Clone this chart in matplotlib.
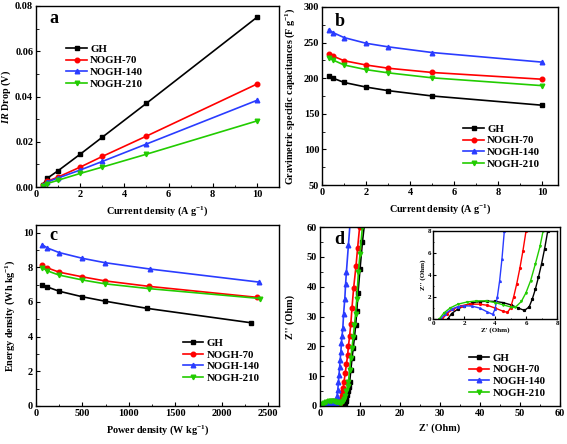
import matplotlib
matplotlib.use("Agg")
import matplotlib.pyplot as plt
from matplotlib.ticker import MultipleLocator

plt.rcParams['font.family'] = ['Liberation Serif', 'DejaVu Serif']
plt.rcParams['font.weight'] = 'bold'
plt.rcParams['axes.labelweight'] = 'bold'
plt.rcParams['mathtext.fontset'] = 'custom'
plt.rcParams['mathtext.rm'] = 'Liberation Serif:bold'
plt.rcParams['mathtext.it'] = 'Liberation Serif:bold:italic'
plt.rcParams['mathtext.bf'] = 'Liberation Serif:bold'

names = ['GH', 'NOGH-70', 'NOGH-140', 'NOGH-210']
colors = ['black', 'red', '#2a3cff', '#22cc00']
markers = ['s', 'o', '^', 'v']

# Panel a: IR drop
current = [0.3, 0.5, 1, 2, 3, 5, 10]
ir_gh = [0.0010, 0.0038, 0.0072, 0.0145, 0.0220, 0.0370, 0.0750]
ir_70 = [0.0008, 0.0025, 0.0044, 0.0088, 0.0135, 0.0225, 0.0455]
ir_140 = [0.0007, 0.0022, 0.0040, 0.0075, 0.0113, 0.0190, 0.0383]
ir_210 = [0.0005, 0.0015, 0.0030, 0.0060, 0.0088, 0.0145, 0.0292]

# Panel b: gravimetric capacitance
cap_gh = [203, 200, 194, 187.5, 182.5, 175, 162]
cap_70 = [234, 231, 224.5, 218.5, 214, 208, 198.5]
cap_140 = [268, 264, 257, 249, 244, 236, 222.5]
cap_210 = [229, 225.5, 218.5, 212, 207.5, 200.5, 189.5]

# Panel c: Ragone
pw_gh = [70, 120, 250, 500, 740, 1200, 2320]
en_gh = [7.0, 6.87, 6.62, 6.3, 6.05, 5.63, 4.8]
pw_70 = [70, 120, 250, 500, 740, 1220, 2380]
en_70 = [8.12, 7.97, 7.72, 7.45, 7.22, 6.9, 6.27]
pw_140 = [70, 120, 250, 500, 740, 1230, 2400]
en_140 = [9.3, 9.12, 8.85, 8.52, 8.27, 7.9, 7.15]
pw_210 = [70, 120, 250, 500, 740, 1220, 2420]
en_210 = [7.98, 7.8, 7.55, 7.27, 7.05, 6.77, 6.2]

# Panel d: Nyquist
zr_gh = [0.95, 1.2, 1.6, 2.0, 2.5, 3.0, 3.5, 4.0, 4.5, 5.0, 5.5, 5.9, 6.2, 6.4, 6.6, 6.8, 7.0, 7.2, 7.4,
         7.7, 8.0, 8.3, 8.6, 8.9, 9.2, 9.5, 10.0, 10.6, 11.1]
zi_gh = [0.0, 0.5, 0.9, 1.2, 1.45, 1.58, 1.62, 1.6, 1.5, 1.3, 1.0, 0.78, 1.1, 1.8, 2.7, 3.8, 5.0, 6.4, 8.0,
         12, 16, 19.5, 23, 27, 32, 38, 46, 55, 61]
zr_70 = [0.6, 0.9, 1.3, 1.8, 2.4, 3.0, 3.5, 4.0, 4.5, 4.8, 5.0, 5.2, 5.4, 5.6, 5.8, 6.0,
         6.3, 6.6, 6.9, 7.1, 7.4, 7.7, 8.0, 8.4, 9.0, 9.4, 9.9]
zi_70 = [0.0, 0.5, 0.9, 1.2, 1.35, 1.35, 1.25, 1.0, 0.72, 0.6, 1.0, 2.0, 3.2, 4.6, 6.2, 8.0,
         11, 14, 17, 20, 23.5, 27.5, 33, 39.5, 47, 53, 60]
zr_140 = [0.5, 0.8, 1.2, 1.6, 2.0, 2.5, 3.0, 3.5, 3.85, 4.0, 4.15, 4.3, 4.45, 4.6,
          4.75, 4.9, 5.05, 5.2, 5.35, 5.5, 5.7, 5.9, 6.2, 6.4, 6.6, 7.1, 7.5]
zi_140 = [0.0, 0.5, 0.9, 1.12, 1.2, 1.18, 1.0, 0.65, 0.42, 0.9, 2.0, 3.5, 5.5, 8.0,
          10.5, 13, 15.5, 18, 21, 23.5, 26, 31, 36, 41, 45, 54, 61]
zr_210 = [0.4, 0.7, 1.1, 1.6, 2.2, 2.8, 3.4, 4.0, 4.5, 5.0, 5.3, 5.7, 6.0, 6.3, 6.6, 6.9, 7.1,
          7.4, 7.7, 8.0, 8.3, 8.6, 8.9, 9.2, 9.6, 10.0, 10.6]
zi_210 = [0.0, 0.55, 1.0, 1.35, 1.55, 1.65, 1.65, 1.5, 1.3, 1.1, 1.05, 1.6, 2.4, 3.5, 5.0, 6.6, 8.0,
          12, 16, 19.5, 23, 27, 31, 36, 45, 51, 60]

fig = plt.figure(figsize=(5.67, 4.44), dpi=100)
ax_a = fig.add_axes([0.0635, 0.5788, 0.4286, 0.4077])
ax_b = fig.add_axes([0.568, 0.5833, 0.416, 0.401])
ax_c = fig.add_axes([0.0635, 0.0856, 0.4286, 0.4076])
ax_d = fig.add_axes([0.5644, 0.0856, 0.4233, 0.403])
ax_i = fig.add_axes([0.7637, 0.2815, 0.2187, 0.198])

LW = 1.2
MS = 3.3
FS = 7.3
TFS = 7.5
LEG = dict(frameon=False, fontsize=7.8, handlelength=1.9, labelspacing=0.2,
           borderpad=0.0, borderaxespad=0.0, handletextpad=0.3)


def style(ax, fs=TFS):
    ax.tick_params(which='both', direction='in', top=False, right=False, labelsize=fs, pad=2)
    ax.tick_params(which='major', length=3, width=0.8)
    ax.tick_params(which='minor', length=1.8, width=0.6)
    for s in ax.spines.values():
        s.set_linewidth(1.0)
    for lab in ax.get_xticklabels() + ax.get_yticklabels():
        lab.set_fontweight('bold')


# a
for y, n, c, m in zip([ir_gh, ir_70, ir_140, ir_210], names, colors, markers):
    ax_a.plot(current, y, color=c, marker=m, ms=MS, lw=LW, label=n)
ax_a.set_xlim(0, 11)
ax_a.set_ylim(0, 0.08)
ax_a.xaxis.set_major_locator(MultipleLocator(2))
ax_a.xaxis.set_minor_locator(MultipleLocator(1))
ax_a.yaxis.set_major_locator(MultipleLocator(0.02))
ax_a.yaxis.set_minor_locator(MultipleLocator(0.01))
ax_a.set_xlabel(r'Current density (A g$^{-1}$)', fontsize=FS)
ax_a.set_ylabel(r'$IR$ Drop (V)', fontsize=FS)
ax_a.yaxis.set_label_coords(-0.093, 0.5)
style(ax_a)
ax_a.text(0.053, 0.93, 'a', transform=ax_a.transAxes, fontsize=13, fontweight='bold', va='center')
ax_a.legend(loc='upper left', bbox_to_anchor=(0.125, 0.79), **LEG)

# b
for y, n, c, m in zip([cap_gh, cap_70, cap_140, cap_210], names, colors, markers):
    ax_b.plot(current, y, color=c, marker=m, ms=MS, lw=LW, label=n)
ax_b.set_xlim(0, 10.7)
ax_b.set_ylim(50, 300)
ax_b.xaxis.set_major_locator(MultipleLocator(2))
ax_b.xaxis.set_minor_locator(MultipleLocator(1))
ax_b.yaxis.set_major_locator(MultipleLocator(50))
ax_b.yaxis.set_minor_locator(MultipleLocator(25))
ax_b.set_xlabel(r'Current density (A g$^{-1}$)', fontsize=FS)
ax_b.set_ylabel(r'Gravimetric specific capacitances (F g$^{-1}$)', fontsize=FS)
ax_b.yaxis.set_label_coords(-0.106, 0.5)
style(ax_b)
ax_b.text(0.055, 0.92, 'b', transform=ax_b.transAxes, fontsize=13, fontweight='bold', va='center')
ax_b.legend(loc='lower right', bbox_to_anchor=(0.925, 0.09), **LEG)

# c
for x, y, n, c, m in zip([pw_gh, pw_70, pw_140, pw_210], [en_gh, en_70, en_140, en_210],
                         names, colors, markers):
    ax_c.plot(x, y, color=c, marker=m, ms=MS, lw=LW, label=n)
ax_c.set_xlim(0, 2620)
ax_c.set_ylim(0, 10.44)
ax_c.xaxis.set_major_locator(MultipleLocator(500))
ax_c.xaxis.set_minor_locator(MultipleLocator(250))
ax_c.yaxis.set_major_locator(MultipleLocator(2))
ax_c.yaxis.set_minor_locator(MultipleLocator(1))
ax_c.set_xlabel(r'Power density (W kg$^{-1}$)', fontsize=FS)
ax_c.set_ylabel(r'Energy density (Wh kg$^{-1}$)', fontsize=FS)
ax_c.yaxis.set_label_coords(-0.08, 0.5)
style(ax_c)
ax_c.text(0.055, 0.94, 'c', transform=ax_c.transAxes, fontsize=13, fontweight='bold', va='center')
ax_c.legend(loc='lower right', bbox_to_anchor=(0.92, 0.127), **LEG)

# d
for x, y, n, c, m in zip([zr_gh, zr_70, zr_140, zr_210], [zi_gh, zi_70, zi_140, zi_210],
                         names, colors, markers):
    ax_d.plot(x, y, color=c, marker=m, ms=MS, lw=LW, label=n)
    ax_i.plot(x, y, color=c, marker=m, ms=1.3, lw=1.0)
ax_d.set_xlim(0, 60)
ax_d.set_ylim(0, 60)
ax_d.xaxis.set_major_locator(MultipleLocator(10))
ax_d.xaxis.set_minor_locator(MultipleLocator(5))
ax_d.yaxis.set_major_locator(MultipleLocator(10))
ax_d.yaxis.set_minor_locator(MultipleLocator(5))
ax_d.set_xlabel("Z' (Ohm)", fontsize=FS)
ax_d.set_ylabel("Z'' (Ohm)", fontsize=FS)
ax_d.yaxis.set_label_coords(-0.104, 0.5)
style(ax_d)
ax_d.text(0.058, 0.93, 'd', transform=ax_d.transAxes, fontsize=13, fontweight='bold', va='center')
ax_d.legend(loc='lower right', bbox_to_anchor=(0.94, 0.045), **LEG)

ax_i.set_xlim(0, 8)
ax_i.set_ylim(0, 8)
ax_i.xaxis.set_major_locator(MultipleLocator(2))
ax_i.xaxis.set_minor_locator(MultipleLocator(1))
ax_i.yaxis.set_major_locator(MultipleLocator(2))
ax_i.yaxis.set_minor_locator(MultipleLocator(1))
ax_i.set_xlabel("Z' (Ohm)", fontsize=5, labelpad=1)
ax_i.set_ylabel("Z'' (Ohm)", fontsize=5, labelpad=1)
style(ax_i, fs=5)
ax_i.tick_params(which='major', length=2, pad=1.5)
ax_i.tick_params(which='minor', length=1)

fig.savefig('out.png', dpi=100)
